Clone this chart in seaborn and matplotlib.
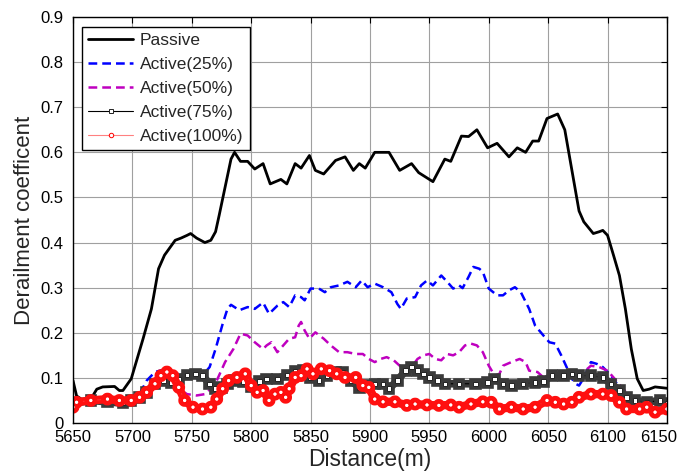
import numpy as np
import pandas as pd
import matplotlib
matplotlib.use('Agg')
import matplotlib.pyplot as plt
import matplotlib.patheffects as pe
import matplotlib.transforms as mtransforms
import seaborn as sns

# Distance (m) / derailment coefficient

passive_x = [5650, 5653, 5657, 5665, 5670, 5675, 5685, 5689, 5692, 5699, 5709, 5716, 5722, 5727,
             5736, 5741, 5746, 5749, 5754, 5761, 5766, 5770, 5773, 5777, 5783, 5786, 5791, 5797,
             5803, 5810, 5816, 5825, 5830, 5837, 5842, 5849, 5854, 5861, 5871, 5879, 5886, 5891,
             5896, 5904, 5916, 5925, 5935, 5941, 5953, 5963, 5968, 5977, 5983, 5990, 5999, 6007,
             6017, 6024, 6031, 6037, 6042, 6049, 6058, 6064, 6068, 6074, 6076, 6080, 6088, 6093,
             6096, 6100, 6105, 6110, 6115, 6120, 6125, 6130, 6135, 6140, 6150]
passive_y = [0.094, 0.060, 0.053, 0.053, 0.075, 0.080, 0.081, 0.072, 0.072, 0.098, 0.187, 0.253,
             0.342, 0.372, 0.405, 0.410, 0.416, 0.420, 0.410, 0.400, 0.405, 0.424, 0.460, 0.510,
             0.585, 0.600, 0.580, 0.580, 0.563, 0.575, 0.530, 0.540, 0.530, 0.575, 0.565, 0.593,
             0.560, 0.552, 0.582, 0.590, 0.560, 0.575, 0.565, 0.600, 0.600, 0.560, 0.575, 0.555,
             0.535, 0.585, 0.580, 0.636, 0.635, 0.650, 0.610, 0.620, 0.590, 0.610, 0.600, 0.625,
             0.625, 0.675, 0.685, 0.650, 0.590, 0.500, 0.470, 0.446, 0.420, 0.424, 0.427, 0.416,
             0.372, 0.327, 0.253, 0.164, 0.098, 0.072, 0.075, 0.080, 0.077]

a25_x = [5650, 5672, 5689, 5699, 5706, 5712, 5719, 5726, 5733, 5739, 5746, 5753, 5759, 5765,
         5770, 5776, 5780, 5783, 5790, 5797, 5803, 5810, 5815, 5822, 5827, 5832, 5837, 5842,
         5845, 5850, 5857, 5862, 5867, 5874, 5881, 5888, 5893, 5898, 5904, 5911, 5918, 5923,
         5926, 5931, 5938, 5943, 5948, 5953, 5960, 5965, 5970, 5975, 5978, 5983, 5987, 5992,
         5995, 6000, 6007, 6012, 6017, 6022, 6027, 6034, 6039, 6046, 6051, 6056, 6061, 6065,
         6070, 6073, 6076, 6080, 6086, 6091, 6096, 6103, 6110, 6116, 6123, 6130, 6144, 6150]
a25_y = [0.046, 0.050, 0.050, 0.055, 0.064, 0.094, 0.113, 0.118, 0.113, 0.109, 0.100, 0.098,
         0.105, 0.124, 0.164, 0.220, 0.253, 0.262, 0.250, 0.257, 0.253, 0.267, 0.242, 0.260,
         0.268, 0.257, 0.283, 0.279, 0.272, 0.298, 0.298, 0.290, 0.301, 0.305, 0.313, 0.301,
         0.316, 0.301, 0.309, 0.301, 0.290, 0.264, 0.253, 0.276, 0.279, 0.305, 0.316, 0.305,
         0.327, 0.313, 0.298, 0.305, 0.299, 0.324, 0.346, 0.342, 0.335, 0.298, 0.283, 0.283,
         0.294, 0.301, 0.290, 0.253, 0.216, 0.194, 0.179, 0.176, 0.150, 0.127, 0.098, 0.087,
         0.083, 0.100, 0.135, 0.131, 0.124, 0.105, 0.079, 0.061, 0.050, 0.046, 0.050, 0.050]

a50_x = [5650, 5699, 5712, 5719, 5726, 5733, 5739, 5746, 5754, 5761, 5766, 5771, 5778, 5785,
         5791, 5797, 5803, 5810, 5813, 5817, 5822, 5827, 5832, 5837, 5840, 5842, 5845, 5849,
         5854, 5861, 5867, 5874, 5881, 5888, 5894, 5899, 5904, 5909, 5914, 5920, 5925, 5930,
         5935, 5940, 5945, 5950, 5955, 5960, 5965, 5970, 5975, 5980, 5985, 5990, 5995, 6000,
         6005, 6009, 6012, 6019, 6026, 6031, 6034, 6041, 6046, 6053, 6063, 6071, 6080, 6086,
         6093, 6100, 6106, 6113, 6120, 6127, 6150]
a50_y = [0.046, 0.055, 0.076, 0.098, 0.105, 0.094, 0.076, 0.064, 0.061, 0.064, 0.076, 0.094,
         0.135, 0.164, 0.198, 0.194, 0.179, 0.164, 0.172, 0.179, 0.157, 0.172, 0.187, 0.190,
         0.216, 0.224, 0.205, 0.187, 0.201, 0.187, 0.172, 0.157, 0.157, 0.153, 0.153, 0.142,
         0.135, 0.142, 0.146, 0.139, 0.127, 0.116, 0.124, 0.142, 0.150, 0.153, 0.142, 0.139,
         0.153, 0.150, 0.157, 0.172, 0.176, 0.172, 0.157, 0.127, 0.105, 0.109, 0.127, 0.135,
         0.142, 0.135, 0.116, 0.113, 0.101, 0.101, 0.101, 0.109, 0.113, 0.127, 0.124, 0.116,
         0.098, 0.076, 0.057, 0.050, 0.046]

a75_x = [5650, 5665, 5679, 5692, 5699, 5706, 5712, 5719, 5726, 5733, 5739, 5746, 5753, 5759,
         5765, 5770, 5775, 5780, 5786, 5793, 5800, 5807, 5813, 5822, 5830, 5837, 5844, 5850,
         5857, 5864, 5871, 5877, 5884, 5891, 5898, 5904, 5911, 5916, 5923, 5930, 5935, 5940,
         5945, 5950, 5957, 5963, 5975, 5989, 5999, 6005, 6012, 6019, 6029, 6039, 6046, 6053,
         6063, 6070, 6076, 6086, 6096, 6103, 6110, 6116, 6123, 6133, 6144, 6150]
a75_y = [0.044, 0.050, 0.047, 0.044, 0.050, 0.057, 0.068, 0.087, 0.094, 0.090, 0.098, 0.107,
         0.109, 0.105, 0.087, 0.076, 0.079, 0.087, 0.094, 0.092, 0.081, 0.092, 0.098, 0.098,
         0.107, 0.114, 0.116, 0.101, 0.094, 0.105, 0.113, 0.113, 0.094, 0.079, 0.084, 0.087,
         0.087, 0.076, 0.094, 0.116, 0.124, 0.116, 0.109, 0.101, 0.094, 0.087, 0.087, 0.087,
         0.090, 0.098, 0.087, 0.083, 0.087, 0.090, 0.092, 0.105, 0.105, 0.109, 0.105, 0.105,
         0.101, 0.087, 0.072, 0.057, 0.050, 0.046, 0.050, 0.044]

a100_x = [5650, 5653, 5665, 5679, 5689, 5699, 5706, 5712, 5719, 5724, 5729, 5734, 5739, 5744,
          5751, 5759, 5766, 5771, 5776, 5781, 5788, 5795, 5800, 5805, 5810, 5815, 5820, 5825,
          5829, 5832, 5837, 5842, 5847, 5852, 5859, 5866, 5872, 5879, 5888, 5894, 5899, 5904,
          5911, 5921, 5931, 5938, 5948, 5958, 5968, 5975, 5985, 5995, 6002, 6009, 6019, 6029,
          6039, 6049, 6056, 6063, 6070, 6076, 6086, 6096, 6103, 6110, 6116, 6127, 6133, 6140, 6150]
a100_y = [0.035, 0.046, 0.050, 0.053, 0.050, 0.050, 0.057, 0.068, 0.087, 0.105, 0.113, 0.105,
          0.079, 0.050, 0.035, 0.031, 0.035, 0.053, 0.076, 0.094, 0.101, 0.109, 0.083, 0.068,
          0.072, 0.050, 0.064, 0.068, 0.057, 0.076, 0.101, 0.105, 0.120, 0.109, 0.120, 0.116,
          0.109, 0.101, 0.101, 0.083, 0.079, 0.053, 0.047, 0.047, 0.039, 0.042, 0.040, 0.039,
          0.040, 0.035, 0.042, 0.047, 0.046, 0.031, 0.035, 0.031, 0.035, 0.050, 0.046, 0.042,
          0.046, 0.057, 0.064, 0.064, 0.061, 0.046, 0.031, 0.031, 0.035, 0.024, 0.031]

xticks = np.arange(5650, 6151, 50)
yticks = np.arange(0, 0.91, 0.1)
ytick_labels = ['0', '0.1', '0.2', '0.3', '0.4', '0.5', '0.6', '0.7', '0.8', '0.9']

sns.set_style('white')
plt.rcParams['font.family'] = ['Liberation Sans', 'DejaVu Sans']

fig = plt.figure(figsize=(6.78, 4.71), dpi=100)
ax = fig.add_axes([0.1077, 0.1019, 0.876, 0.862])

sns.lineplot(x=passive_x, y=passive_y, ax=ax, color='black', lw=2, sort=False,
             estimator=None, label='Passive')
sns.lineplot(x=a25_x, y=a25_y, ax=ax, color='#0000ff', lw=1.8, sort=False,
             estimator=None, label='Active(25%)', linestyle=(0, (3.5, 2)))
sns.lineplot(x=a50_x, y=a50_y, ax=ax, color='#bf00bf', lw=1.8, sort=False,
             estimator=None, label='Active(50%)', linestyle=(0, (3.5, 2)))

# dense marker bands
band75 = [pe.Stroke(linewidth=5.5, foreground='#3a3a3a'), pe.Normal()]
band100 = [pe.Stroke(linewidth=6, foreground='#ff1010'), pe.Normal()]
l75 = ax.plot(a75_x, a75_y, color='black', lw=0.8, marker='s', ms=3.2, mfc='white',
              mec='#222222', mew=0.7, label='Active(75%)')[0]
l75.set_path_effects(band75)
l100 = ax.plot(a100_x, a100_y, color='#ff3030', lw=0.8, marker='o', ms=3.2, mfc='white',
               mec='#ff0000', mew=0.7, label='Active(100%)')[0]
l100.set_path_effects(band100)

ax.set_xlim(5650, 6150)
ax.set_ylim(0, 0.9)
ax.set_xticks(xticks)
ax.set_yticks(yticks)
ax.set_yticklabels(ytick_labels)
ax.tick_params(direction='in', top=True, right=True, length=4, width=0.8,
               labelsize=12, colors='black')
ax.tick_params(axis='x', pad=5)
ax.tick_params(axis='y', pad=7)
ax.grid(True, color='#a0a0a0', lw=0.8, linestyle='-')
for s in ax.spines.values():
    s.set_color('black')
    s.set_linewidth(1)
ax.set_xlabel('Distance(m)', fontsize=16.5, labelpad=2)
ax.set_ylabel('Derailment coefficent', fontsize=16, labelpad=4)

# keep the last x tick label inside the figure, as in the original
fig.canvas.draw()
last = ax.get_xticklabels()[-1]
last.set_ha('right')
last.set_transform(last.get_transform() + mtransforms.ScaledTranslation(10 / 100, 0, fig.dpi_scale_trans))

leg = ax.legend(loc='upper left', bbox_to_anchor=(0.015, 0.975), fontsize=12.5,
                frameon=True, fancybox=False, framealpha=1, edgecolor='black',
                handlelength=2.6, handletextpad=0.4, labelspacing=0.5, borderpad=0.35,
                borderaxespad=0)
leg.get_frame().set_linewidth(1)
for h in leg.legend_handles:
    h.set_path_effects([])
leg.legend_handles[3].set_linewidth(0.8)
leg.legend_handles[4].set_linewidth(0.8)
leg.legend_handles[4].set_color('#ff8080')
leg.legend_handles[4].set_markeredgecolor('#ff0000')

fig.savefig('out.png', dpi=100)
